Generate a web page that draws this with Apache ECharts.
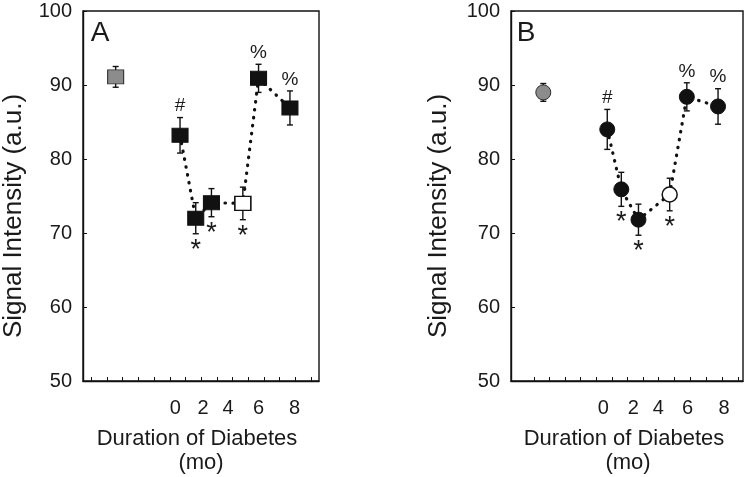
<!DOCTYPE html>
<html>
<head>
<meta charset="utf-8">
<script src="https://cdn.jsdelivr.net/npm/echarts@6/dist/echarts.min.js"></script>
<style>
html,body{margin:0;padding:0;background:#fff;}
#chart{width:748px;height:477px;}
</style>
</head>
<body>
<div id="chart"></div>
<script>
// ---- data ----
const monthsA = [-4.1, 0, 1, 2, 4, 5, 7];
const meanA   = [91.1, 83.2, 72.0, 74.1, 74.0, 90.9, 86.9];
const semA    = [1.4, 2.4, 2.1, 1.9, 2.2, 1.9, 2.3];

const monthsB = [-4.1, 0, 0.9, 2, 4, 5.1, 7.1];
const meanB   = [89.0, 84.0, 75.9, 71.8, 75.2, 88.4, 87.1];
const semB    = [1.2, 2.7, 2.3, 2.1, 2.2, 1.9, 2.4];

const pointKind   = ['control', 'dm', 'dm', 'dm', 'open', 'dm', 'dm'];
const annotations = ['', '#', '*', '*', '*', '%', '%'];

const xTickLabels = ['0', '2', '4', '6', '8'];
const xLabelAtA   = [-0.3, 1.47, 3.06, 5.0, 7.3];
const xLabelAtB   = [-0.26, 1.67, 3.27, 5.15, 7.48];
const xTicksA = [-5.65, -4.65, -3.65, -2.65, -1.65, -0.65, 0.35, 1.35, 2.35, 3.35, 4.35, 5.35, 6.35, 7.35, 8.35];
const xTicksB = [-4.7, -3.7, -2.7, -1.7, -0.7, 0.3, 1.3, 2.3, 3.3, 4.3, 5.3, 6.35, 7.4, 8.42];
const yTicks = [50, 60, 70, 80, 90, 100];

// ---- build ----
const FONT = '"Liberation Sans", Arial, Helvetica, sans-serif';
const INK = '#1a1a1a';
const chart = echarts.init(document.getElementById('chart'), null, {renderer: 'canvas'});

function markerStyle(kind) {
  if (kind === 'control') return {color: '#8c8c8c', borderColor: '#2a2a2a', borderWidth: 1, opacity: 1};
  if (kind === 'open') return {color: '#ffffff', borderColor: '#111', borderWidth: 1.5, opacity: 1};
  return {color: '#111111', borderColor: '#111', borderWidth: 1, opacity: 1};
}

function panelSeries(idx, months, mean, sem, symbol, symbolSize) {
  const lineData = [];
  for (let i = 0; i < months.length; i++) {
    if (pointKind[i] !== 'control') lineData.push([months[i], mean[i]]);
  }
  const errData = months.map((m, i) => [m, mean[i] - sem[i], mean[i] + sem[i]]);
  const markers = months.map((m, i) => ({value: [m, mean[i]], itemStyle: markerStyle(pointKind[i])}));
  const topAnn = [], botAnn = [];
  months.forEach((m, i) => {
    const a = annotations[i];
    if (!a) return;
    if (a === '*') botAnn.push({value: [m, mean[i] - sem[i]], name: a});
    else topAnn.push({value: [m, mean[i] + sem[i]], name: a});
  });
  return [
    {
      type: 'line', xAxisIndex: idx, yAxisIndex: idx, data: lineData, symbol: 'none', z: 1,
      lineStyle: {color: '#111', width: 3.2, type: [0.5, 7.5], cap: 'round'}, silent: true
    },
    {
      type: 'custom', xAxisIndex: idx, yAxisIndex: idx, data: errData, z: 2, silent: true,
      renderItem: function (params, api) {
        const lo = api.coord([api.value(0), api.value(1)]);
        const hi = api.coord([api.value(0), api.value(2)]);
        const w = 3;
        const st = {stroke: '#111', lineWidth: 1.4};
        return {
          type: 'group',
          children: [
            {type: 'line', shape: {x1: lo[0], y1: lo[1], x2: hi[0], y2: hi[1]}, style: st},
            {type: 'line', shape: {x1: hi[0] - w, y1: hi[1], x2: hi[0] + w, y2: hi[1]}, style: st},
            {type: 'line', shape: {x1: lo[0] - w, y1: lo[1], x2: lo[0] + w, y2: lo[1]}, style: st}
          ]
        };
      }
    },
    {
      type: 'scatter', xAxisIndex: idx, yAxisIndex: idx, data: markers, z: 3,
      symbol: symbol, symbolSize: symbolSize, silent: true, itemStyle: {opacity: 1}
    },
    {
      type: 'scatter', xAxisIndex: idx, yAxisIndex: idx, data: topAnn, symbolSize: 0, z: 4, silent: true,
      itemStyle: {opacity: 1},
      label: {show: true, position: 'top', distance: 2, formatter: p => p.name,
        fontFamily: FONT, fontSize: 19, color: INK, opacity: 1}
    },
    {
      type: 'scatter', xAxisIndex: idx, yAxisIndex: idx, data: botAnn, symbolSize: 0, z: 4, silent: true,
      itemStyle: {opacity: 1},
      label: {show: true, position: 'bottom', distance: 3, formatter: p => p.name,
        fontFamily: FONT, fontSize: 27, color: INK, opacity: 1}
    }
  ];
}

function xAxis(idx, min, max, ticks, labelAt) {
  return {
    type: 'value', gridIndex: idx, min: min, max: max,
    axisLine: {show: true, onZero: false, lineStyle: {color: '#111', width: 1.4}},
    axisTick: {show: true, inside: true, length: 4, customValues: ticks, lineStyle: {color: '#111', width: 1}},
    axisLabel: {
      show: true, customValues: labelAt, margin: 17, fontFamily: FONT, fontSize: 20, color: INK,
      formatter: v => { const k = labelAt.indexOf(v); return k >= 0 ? xTickLabels[k] : ''; }
    },
    splitLine: {show: false}
  };
}

function yAxis(idx) {
  return {
    type: 'value', gridIndex: idx, min: 50, max: 100, interval: 10,
    axisLine: {show: true, onZero: false, lineStyle: {color: '#111', width: 1.4}},
    axisTick: {show: true, inside: true, length: 4, customValues: yTicks, lineStyle: {color: '#111', width: 1}},
    axisLabel: {show: true, customValues: yTicks, margin: 11, fontFamily: FONT, fontSize: 20, color: INK},
    splitLine: {show: false}
  };
}

function txt(x, y, text, size, opts) {
  return Object.assign({
    type: 'text', x: x, y: y, silent: true,
    style: {text: text, fontFamily: FONT, fontSize: size, fill: INK, align: 'center', verticalAlign: 'middle'}
  }, opts || {});
}

const option = {
  backgroundColor: '#ffffff',
  animation: false,
  grid: [
    {left: 83, top: 11, width: 236, height: 370, show: true, borderColor: '#111', borderWidth: 1.4, backgroundColor: 'transparent'},
    {left: 511, top: 11, width: 232, height: 370, show: true, borderColor: '#111', borderWidth: 1.4, backgroundColor: 'transparent'}
  ],
  xAxis: [
    xAxis(0, -6.18, 8.85, xTicksA, xLabelAtA),
    xAxis(1, -6.17, 8.70, xTicksB, xLabelAtB)
  ],
  yAxis: [yAxis(0), yAxis(1)],
  series: [].concat(
    panelSeries(0, monthsA, meanA, semA, 'rect', [16, 14]),
    panelSeries(1, monthsB, meanB, semB, 'circle', 15)
  ),
  graphic: [
    txt(100, 33, 'A', 28),
    txt(526, 33, 'B', 28),
    txt(197, 439, 'Duration of Diabetes', 22),
    txt(201, 463, '(mo)', 22),
    txt(624, 439, 'Duration of Diabetes', 22),
    txt(628, 463, '(mo)', 22),
    {type: 'text', x: 14, y: 216, rotation: Math.PI / 2, silent: true,
      style: {text: 'Signal Intensity (a.u.)', fontFamily: FONT, fontSize: 26, fill: INK, align: 'center', verticalAlign: 'middle'}},
    {type: 'text', x: 439, y: 216, rotation: Math.PI / 2, silent: true,
      style: {text: 'Signal Intensity (a.u.)', fontFamily: FONT, fontSize: 26, fill: INK, align: 'center', verticalAlign: 'middle'}}
  ]
};
chart.setOption(option);
</script>
</body>
</html>
